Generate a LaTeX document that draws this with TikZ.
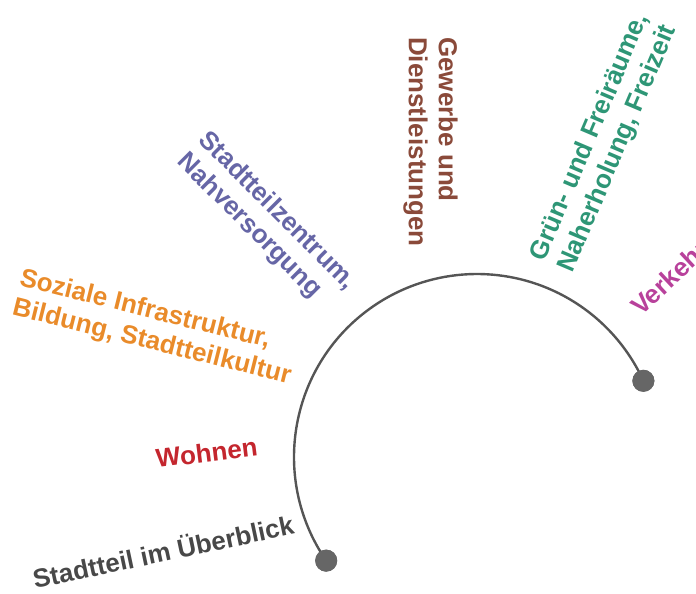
\documentclass[tikz,border=0pt]{standalone}
\usepackage{fontspec}
\usetikzlibrary{calc}
\setmainfont{Liberation Sans}
\definecolor{cgray}{HTML}{484848}
\definecolor{cred}{HTML}{C4262E}
\definecolor{corange}{HTML}{E98B2A}
\definecolor{cslate}{HTML}{6666A6}
\definecolor{cbrown}{HTML}{8A4A3A}
\definecolor{cgreen}{HTML}{2E9676}
\definecolor{cmagenta}{HTML}{B8419B}
\definecolor{carc}{HTML}{555555}
\definecolor{cdot}{HTML}{666666}
\tikzset{
  lbl/.style={font=\fontsize{26}{30}\selectfont\bfseries, inner sep=0pt, align=left},
  enddot/.style={circle, fill=cdot, draw=none, minimum size=22pt, inner sep=0pt},
  arcline/.style={draw=carc, line width=2.4pt}
}
\begin{document}
\begin{tikzpicture}[x=1pt,y=1pt]
\useasboundingbox (0,0) rectangle (696,594);
\clip (0,0) rectangle (696,594);
\coordinate (ctr) at (477,137);
\node[enddot] (d1) at ($(ctr)+(214.5:183)$) {};
\node[enddot] (d2) at ($(ctr)+(24.6:183)$) {};
\draw[arcline] (d1.center) arc[start angle=214.5, end angle=24.6, radius=183];
\node[enddot] at (d1.center) {};
\node[enddot] at (d2.center) {};
\node[lbl, text=cgray, anchor=base west, rotate=12] (t1) at (35,5) {Stadtteil im Überblick};
\node[lbl, text=cred, anchor=base west, rotate=7] (t2) at (157,126) {Wohnen};
\node[lbl, text=corange, anchor=north west, rotate=-14] (t3) at (23,327) {Soziale Infrastruktur,\\Bildung, Stadtteilkultur};
\node[lbl, text=cslate, anchor=north west, rotate=-45] (t4) at (211,466) {Stadtteilzentrum,\\Nahversorgung};
\node[lbl, text=cbrown, anchor=north west, rotate=-90] (t5) at (458,557) {Gewerbe und\\Dienstleistungen};
\node[lbl, text=cgreen, anchor=north west, rotate=67] (t6) at (527,339) {Grün- und Freiräume,\\Naherholung, Freizeit};
\node[lbl, text=cmagenta, anchor=base west, rotate=43] (t7) at (641,277) {Verkehr};
\end{tikzpicture}
\end{document}
